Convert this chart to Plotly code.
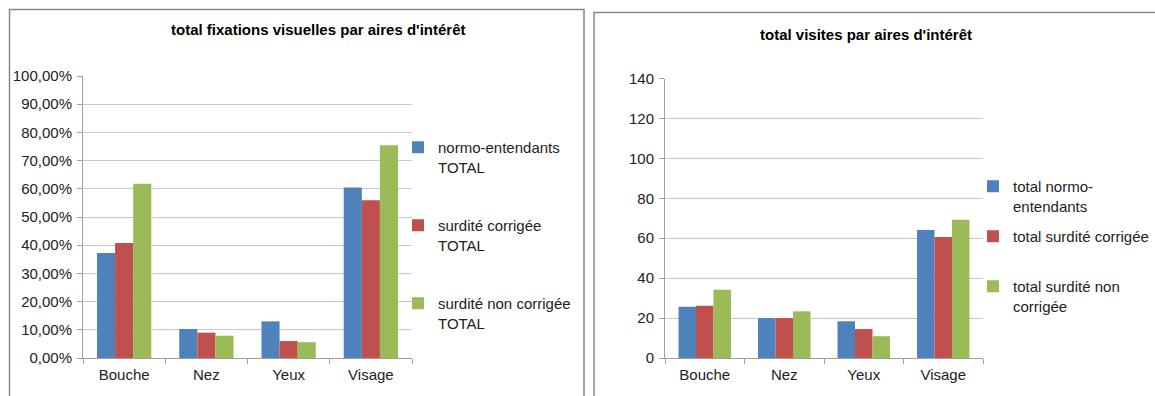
import plotly.graph_objects as go

W, H = 1155, 396

categories = ["Bouche", "Nez", "Yeux", "Visage"]

# Fixations (%) per area of interest
fix_normo = [37.2, 10.3, 13.0, 60.5]
fix_corrigee = [40.8, 9.0, 6.0, 55.9]
fix_non_corrigee = [61.8, 7.9, 5.6, 75.4]
fix_names = ["normo-entendants<br>TOTAL", "surdité corrigée<br>TOTAL", "surdité non corrigée<br>TOTAL"]

# Visits per area of interest
vis_normo = [25.7, 20.0, 18.4, 64.1]
vis_corrigee = [26.2, 20.0, 14.5, 60.6]
vis_non_corrigee = [34.2, 23.4, 10.9, 69.2]
# each entry keeps a two-line slot so entries sit at a regular pitch
vis_names = ["total normo-<br>entendants", "total surdité corrigée<br> ", "total surdité non<br>corrigée"]

colors = ["#4F81BD", "#C0504D", "#9BBB59"]
FONT = "Liberation Sans, Arial, sans-serif"
TXT = "#222222"
GRID = "#C9C9C9"
AXIS = "#A0A0A0"
FS = 15


def px_x(p):
    return p / W


def px_y(p):
    return 1 - p / H


fig = go.Figure()

for i, (vals, name) in enumerate(zip([fix_normo, fix_corrigee, fix_non_corrigee], fix_names)):
    fig.add_trace(go.Bar(
        x=categories, y=vals, name=name, marker=dict(color=colors[i], line=dict(width=0)),
        xaxis="x", yaxis="y", legend="legend", legendgroup=f"f{i}",
    ))

for i, (vals, name) in enumerate(zip([vis_normo, vis_corrigee, vis_non_corrigee], vis_names)):
    fig.add_trace(go.Bar(
        x=categories, y=vals, name=name, marker=dict(color=colors[i], line=dict(width=0)),
        xaxis="x2", yaxis="y2", legend="legend2", legendgroup=f"v{i}",
    ))

xaxis_common = dict(
    type="category", showgrid=False, showline=True, linecolor=AXIS, linewidth=1,
    ticks="outside", tickson="boundaries", ticklen=5, tickcolor=AXIS, automargin=False,
    ticklabelstandoff=3,
    tickfont=dict(family=FONT, size=FS, color=TXT), fixedrange=True,
)
yaxis_common = dict(
    showgrid=True, gridcolor=GRID, gridwidth=1, showline=True, linecolor=AXIS, linewidth=1,
    ticks="outside", ticklen=5, tickcolor=AXIS, zeroline=False, automargin=False,
    ticklabelstandoff=2,
    tickfont=dict(family=FONT, size=FS, color=TXT), fixedrange=True,
)

fig.update_layout(
    width=W, height=H,
    margin=dict(l=0, r=0, t=0, b=0, autoexpand=False),
    paper_bgcolor="white", plot_bgcolor="white",
    separators=", ",
    barmode="group", bargap=0.34, bargroupgap=0,
    showlegend=True,
    xaxis=dict(domain=[px_x(83), px_x(412)], anchor="y", **xaxis_common),
    yaxis=dict(domain=[px_y(358), px_y(76)], anchor="x", range=[0, 100], dtick=10,
               tickformat=".2f", ticksuffix="%", **yaxis_common),
    xaxis2=dict(domain=[px_x(665), px_x(983)], anchor="y2", **xaxis_common),
    yaxis2=dict(domain=[px_y(358), px_y(78.5)], anchor="x2", range=[0, 140], dtick=20,
                tickformat="d", **yaxis_common),
    legend=dict(
        x=px_x(398), y=px_y(131), xanchor="left", yanchor="top", valign="top",
        traceorder="grouped", tracegroupgap=36, bgcolor="rgba(0,0,0,0)",
        font=dict(family=FONT, size=FS, color=TXT),
    ),
    legend2=dict(
        x=px_x(973), y=px_y(170), xanchor="left", yanchor="top", valign="top",
        traceorder="grouped", tracegroupgap=8, bgcolor="rgba(0,0,0,0)",
        font=dict(family=FONT, size=FS, color=TXT),
    ),
    annotations=[
        dict(text="<b>total fixations visuelles par aires d'intérêt</b>", x=px_x(318), y=px_y(29.5),
             xref="paper", yref="paper", xanchor="center", yanchor="middle", showarrow=False,
             font=dict(family=FONT, size=FS, color="#000000")),
        dict(text="<b>total visites par aires d'intérêt</b>", x=px_x(866), y=px_y(35),
             xref="paper", yref="paper", xanchor="center", yanchor="middle", showarrow=False,
             font=dict(family=FONT, size=FS, color="#000000")),
    ],
    shapes=[
        dict(type="rect", xref="paper", yref="paper", x0=px_x(9.5), x1=px_x(584), y0=-0.2, y1=px_y(9.5),
             line=dict(color="#888888", width=1.5), fillcolor="rgba(0,0,0,0)", layer="below"),
        dict(type="rect", xref="paper", yref="paper", x0=px_x(594), x1=1.2, y0=-0.2, y1=px_y(12.5),
             line=dict(color="#888888", width=1.5), fillcolor="rgba(0,0,0,0)", layer="below"),
    ],
)

fig.write_html("out.html")
